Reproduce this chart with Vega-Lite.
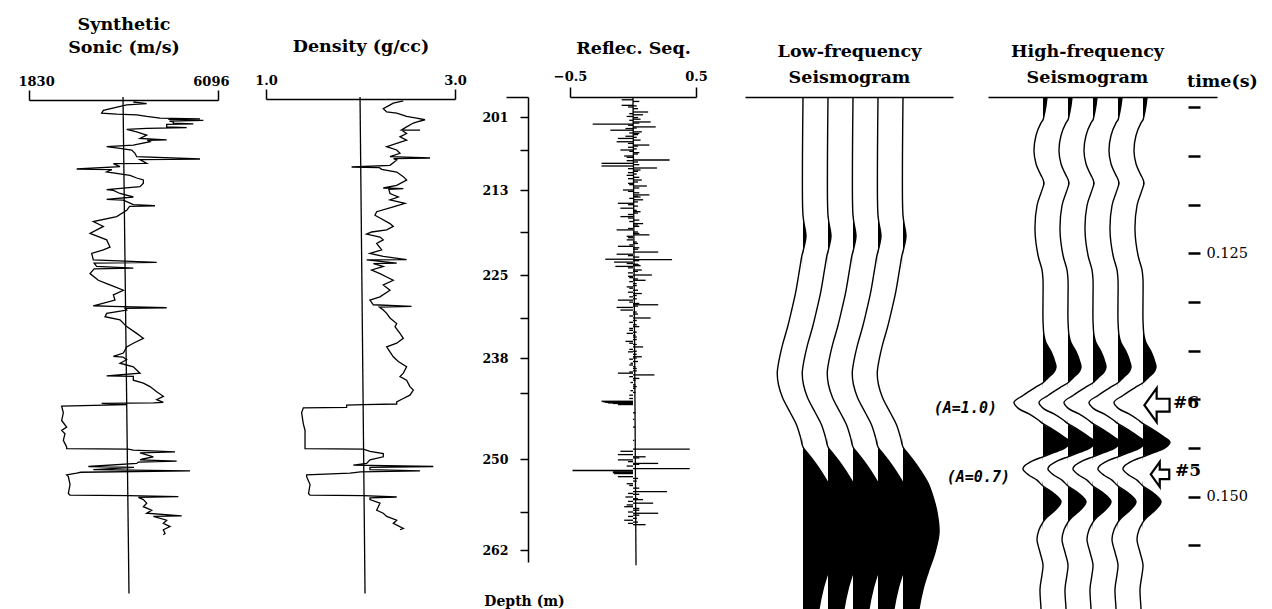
{
"$schema": "https://vega.github.io/schema/vega-lite/v6.json",
"width": 1272, "height": 609, "autosize": {"type": "none"}, "padding": 0, "background": "white",
"config": {"view": {"stroke": null}, "axis": {"grid": false, "domainColor": "black", "tickColor": "black", "labelColor": "black", "titleColor": "black", "labelFont": "DejaVu Serif", "titleFont": "DejaVu Serif", "labelOverlap": false}},
"datasets": {
"sonic": [{"d":198.3,"v":4185},{"d":198.6,"v":4486},{"d":198.8,"v":4035},{"d":199.8,"v":3508},{"d":200.3,"v":3470},{"d":200.5,"v":3809},{"d":200.6,"v":4260},{"d":200.9,"v":4486},{"d":201.2,"v":4787},{"d":201.35,"v":5690},{"d":201.45,"v":4975},{"d":201.6,"v":5765},{"d":201.75,"v":5000},{"d":201.9,"v":5088},{"d":202.1,"v":5088},{"d":202.25,"v":5539},{"d":202.35,"v":4938},{"d":202.8,"v":4938},{"d":202.95,"v":5389},{"d":203.05,"v":4486},{"d":203.25,"v":4035},{"d":203.7,"v":4260},{"d":204.3,"v":4486},{"d":204.9,"v":4336},{"d":205.15,"v":4938},{"d":205.25,"v":4500},{"d":205.5,"v":4561},{"d":206.1,"v":4185},{"d":206.4,"v":3583},{"d":206.7,"v":3884},{"d":207.0,"v":4148},{"d":207.5,"v":4223},{"d":208.0,"v":4260},{"d":208.35,"v":5690},{"d":208.45,"v":4336},{"d":209.0,"v":4486},{"d":209.05,"v":3734},{"d":209.5,"v":3884},{"d":209.85,"v":2906},{"d":209.95,"v":3700},{"d":210.3,"v":3583},{"d":210.8,"v":4110},{"d":211.2,"v":4260},{"d":211.5,"v":4411},{"d":212.0,"v":4411},{"d":212.5,"v":4336},{"d":212.95,"v":3583},{"d":213.05,"v":3734},{"d":213.5,"v":3884},{"d":214.0,"v":4185},{"d":214.35,"v":3583},{"d":214.45,"v":3960},{"d":215.1,"v":4185},{"d":215.25,"v":4674},{"d":215.35,"v":4100},{"d":215.9,"v":4035},{"d":216.8,"v":3809},{"d":217.5,"v":3282},{"d":218.2,"v":3508},{"d":219.2,"v":3207},{"d":220.1,"v":3583},{"d":221.1,"v":3658},{"d":221.5,"v":3508},{"d":222.0,"v":3245},{"d":222.9,"v":3282},{"d":223.25,"v":4712},{"d":223.35,"v":3300},{"d":223.8,"v":3357},{"d":224.05,"v":4185},{"d":224.15,"v":3300},{"d":224.8,"v":3207},{"d":225.8,"v":3395},{"d":226.3,"v":3583},{"d":226.8,"v":3771},{"d":227.3,"v":3960},{"d":228.0,"v":3734},{"d":228.8,"v":3771},{"d":229.65,"v":3282},{"d":229.75,"v":3700},{"d":229.95,"v":4938},{"d":230.05,"v":4000},{"d":230.3,"v":4035},{"d":230.8,"v":3583},{"d":231.3,"v":3546},{"d":231.8,"v":3884},{"d":232.9,"v":4035},{"d":234.0,"v":4260},{"d":234.8,"v":4411},{"d":235.6,"v":4185},{"d":236.2,"v":4035},{"d":237.2,"v":3960},{"d":237.75,"v":3734},{"d":237.85,"v":3950},{"d":238.3,"v":4035},{"d":238.9,"v":3884},{"d":239.5,"v":4185},{"d":240.6,"v":4336},{"d":241.05,"v":3583},{"d":241.15,"v":4185},{"d":241.8,"v":4185},{"d":242.3,"v":4411},{"d":242.9,"v":4561},{"d":243.8,"v":4712},{"d":244.3,"v":4862},{"d":244.6,"v":4712},{"d":244.85,"v":4862},{"d":244.9,"v":4637},{"d":244.95,"v":3470},{"d":245.05,"v":4035},{"d":245.2,"v":2567},{"d":245.8,"v":2605},{"d":246.5,"v":2567},{"d":247.1,"v":2680},{"d":247.4,"v":2567},{"d":247.7,"v":2642},{"d":248.3,"v":2605},{"d":248.9,"v":2680},{"d":249.05,"v":2680},{"d":249.1,"v":4072},{"d":249.2,"v":4185},{"d":249.35,"v":5126},{"d":249.45,"v":4336},{"d":249.8,"v":4637},{"d":250.0,"v":4400},{"d":250.1,"v":4336},{"d":250.25,"v":5163},{"d":250.35,"v":4300},{"d":250.5,"v":4260},{"d":250.85,"v":3170},{"d":250.95,"v":4200},{"d":251.2,"v":3282},{"d":251.35,"v":5464},{"d":251.5,"v":3000},{"d":251.6,"v":2906},{"d":251.8,"v":2680},{"d":252.0,"v":2718},{"d":252.9,"v":2756},{"d":253.9,"v":2718},{"d":254.1,"v":2756},{"d":254.15,"v":4072},{"d":254.25,"v":5201},{"d":254.35,"v":4300},{"d":254.6,"v":4411},{"d":255.0,"v":4486},{"d":255.4,"v":4411},{"d":255.8,"v":4599},{"d":256.2,"v":4486},{"d":256.6,"v":5276},{"d":256.7,"v":4637},{"d":257.3,"v":4938},{"d":257.8,"v":4862},{"d":258.3,"v":5013},{"d":258.8,"v":4862},{"d":259.4,"v":4900},{"d":259.6,"v":4862}],
"density": [{"d":198.1,"rho":2.453},{"d":198.5,"rho":2.347},{"d":199.5,"rho":2.241},{"d":200.1,"rho":2.277},{"d":200.3,"rho":2.383},{"d":200.9,"rho":2.488},{"d":201.2,"rho":2.594},{"d":201.5,"rho":2.682},{"d":201.9,"rho":2.6},{"d":202.1,"rho":2.559},{"d":202.8,"rho":2.488},{"d":203.35,"rho":2.435},{"d":203.4,"rho":2.63},{"d":203.45,"rho":2.44},{"d":204.0,"rho":2.488},{"d":204.6,"rho":2.418},{"d":205.2,"rho":2.488},{"d":205.8,"rho":2.383},{"d":206.4,"rho":2.277},{"d":207.0,"rho":2.383},{"d":207.5,"rho":2.418},{"d":208.0,"rho":2.312},{"d":208.2,"rho":2.735},{"d":208.3,"rho":2.35},{"d":208.5,"rho":2.383},{"d":208.9,"rho":2.347},{"d":209.3,"rho":2.312},{"d":209.55,"rho":1.906},{"d":209.65,"rho":2.2},{"d":209.9,"rho":2.224},{"d":210.3,"rho":2.383},{"d":211.0,"rho":2.453},{"d":211.5,"rho":2.488},{"d":212.3,"rho":2.383},{"d":212.7,"rho":2.241},{"d":212.8,"rho":2.453},{"d":212.9,"rho":2.3},{"d":213.5,"rho":2.312},{"d":214.0,"rho":2.4},{"d":214.4,"rho":2.312},{"d":214.9,"rho":2.471},{"d":215.4,"rho":2.347},{"d":216.1,"rho":2.171},{"d":216.6,"rho":2.153},{"d":217.0,"rho":2.206},{"d":217.8,"rho":2.312},{"d":218.2,"rho":2.347},{"d":218.7,"rho":2.277},{"d":219.0,"rho":2.118},{"d":219.3,"rho":2.065},{"d":219.7,"rho":2.206},{"d":220.1,"rho":2.241},{"d":220.6,"rho":2.171},{"d":221.5,"rho":2.224},{"d":222.0,"rho":2.1},{"d":222.4,"rho":2.241},{"d":222.85,"rho":2.488},{"d":222.9,"rho":2.065},{"d":223.35,"rho":2.383},{"d":223.4,"rho":2.136},{"d":223.8,"rho":2.241},{"d":224.3,"rho":2.118},{"d":224.8,"rho":2.206},{"d":225.3,"rho":2.277},{"d":225.8,"rho":2.347},{"d":226.5,"rho":2.241},{"d":227.3,"rho":2.312},{"d":228.3,"rho":2.206},{"d":228.8,"rho":2.1},{"d":229.5,"rho":2.136},{"d":229.75,"rho":2.54},{"d":229.85,"rho":2.2},{"d":230.3,"rho":2.241},{"d":230.8,"rho":2.277},{"d":231.5,"rho":2.312},{"d":232.4,"rho":2.383},{"d":232.9,"rho":2.365},{"d":234.0,"rho":2.418},{"d":234.8,"rho":2.453},{"d":235.6,"rho":2.383},{"d":236.2,"rho":2.277},{"d":237.0,"rho":2.312},{"d":237.8,"rho":2.347},{"d":238.6,"rho":2.4},{"d":239.5,"rho":2.488},{"d":240.6,"rho":2.453},{"d":241.2,"rho":2.418},{"d":241.8,"rho":2.488},{"d":242.9,"rho":2.523},{"d":243.5,"rho":2.559},{"d":244.2,"rho":2.523},{"d":244.5,"rho":2.453},{"d":244.8,"rho":2.383},{"d":245.0,"rho":2.383},{"d":245.05,"rho":2.03},{"d":245.1,"rho":1.853},{"d":245.3,"rho":1.853},{"d":245.35,"rho":1.395},{"d":245.8,"rho":1.377},{"d":246.8,"rho":1.395},{"d":247.4,"rho":1.413},{"d":248.3,"rho":1.413},{"d":248.9,"rho":1.413},{"d":249.05,"rho":1.413},{"d":249.1,"rho":2.03},{"d":249.3,"rho":2.1},{"d":249.5,"rho":2.241},{"d":249.8,"rho":2.241},{"d":250.1,"rho":2.1},{"d":250.5,"rho":2.065},{"d":250.7,"rho":1.924},{"d":250.85,"rho":2.77},{"d":250.95,"rho":2.1},{"d":251.2,"rho":2.1},{"d":251.35,"rho":2.63},{"d":251.45,"rho":2.0},{"d":251.6,"rho":1.889},{"d":251.8,"rho":1.43},{"d":252.0,"rho":1.43},{"d":252.9,"rho":1.466},{"d":253.9,"rho":1.45},{"d":254.1,"rho":1.466},{"d":254.15,"rho":2.03},{"d":254.3,"rho":2.383},{"d":254.4,"rho":2.1},{"d":254.6,"rho":2.1},{"d":255.0,"rho":2.206},{"d":255.8,"rho":2.171},{"d":256.2,"rho":2.241},{"d":256.7,"rho":2.277},{"d":257.3,"rho":2.383},{"d":257.8,"rho":2.347},{"d":258.6,"rho":2.453},{"d":258.8,"rho":2.418}],
"reflec": [{"d":197.9,"r":-0.09},{"d":198.2,"r":0.05},{"d":198.9,"r":-0.09},{"d":199.5,"r":0.04},{"d":200.1,"r":0.12},{"d":200.6,"r":0.08},{"d":200.9,"r":-0.05},{"d":201.4,"r":0.06},{"d":201.9,"r":0.14},{"d":202.3,"r":-0.32},{"d":202.8,"r":0.18},{"d":203.1,"r":-0.06},{"d":203.4,"r":-0.18},{"d":203.7,"r":0.07},{"d":204.0,"r":0.05},{"d":204.5,"r":-0.06},{"d":204.9,"r":-0.12},{"d":205.2,"r":0.06},{"d":205.5,"r":-0.13},{"d":206.1,"r":0.13},{"d":206.5,"r":-0.04},{"d":207.0,"r":-0.1},{"d":207.4,"r":0.05},{"d":207.9,"r":-0.07},{"d":208.5,"r":0.29},{"d":208.6,"r":-0.05},{"d":209.0,"r":-0.25},{"d":209.4,"r":-0.25},{"d":209.7,"r":0.19},{"d":210.0,"r":0.06},{"d":210.4,"r":-0.04},{"d":210.8,"r":-0.05},{"d":211.1,"r":0.05},{"d":211.5,"r":0.07},{"d":212.0,"r":-0.04},{"d":212.4,"r":0.11},{"d":213.0,"r":-0.08},{"d":213.4,"r":0.05},{"d":213.7,"r":0.13},{"d":214.0,"r":0.06},{"d":214.4,"r":0.08},{"d":214.9,"r":-0.12},{"d":215.3,"r":0.04},{"d":215.6,"r":-0.1},{"d":216.1,"r":0.06},{"d":216.5,"r":-0.04},{"d":216.8,"r":-0.1},{"d":217.3,"r":0.05},{"d":217.8,"r":0.08},{"d":218.2,"r":0.05},{"d":218.7,"r":-0.13},{"d":219.0,"r":0.04},{"d":219.4,"r":0.13},{"d":219.8,"r":-0.04},{"d":220.1,"r":-0.05},{"d":220.6,"r":0.04},{"d":221.0,"r":-0.12},{"d":221.4,"r":0.04},{"d":221.8,"r":0.2},{"d":222.1,"r":-0.13},{"d":222.5,"r":0.05},{"d":222.8,"r":-0.22},{"d":222.85,"r":0.31},{"d":223.2,"r":-0.15},{"d":223.5,"r":0.04},{"d":223.7,"r":0.06},{"d":223.8,"r":-0.14},{"d":224.3,"r":0.07},{"d":224.7,"r":-0.04},{"d":225.0,"r":0.15},{"d":225.4,"r":-0.03},{"d":225.8,"r":0.1},{"d":226.3,"r":0.03},{"d":226.8,"r":-0.05},{"d":227.3,"r":0.04},{"d":227.8,"r":0.07},{"d":228.3,"r":-0.03},{"d":228.8,"r":-0.12},{"d":229.3,"r":0.05},{"d":229.5,"r":0.2},{"d":229.9,"r":-0.13},{"d":230.3,"r":-0.1},{"d":230.9,"r":0.04},{"d":231.5,"r":0.14},{"d":232.2,"r":-0.03},{"d":232.9,"r":0.05},{"d":233.5,"r":-0.03},{"d":234.0,"r":-0.05},{"d":234.6,"r":0.03},{"d":235.3,"r":-0.06},{"d":235.8,"r":0.03},{"d":236.2,"r":0.08},{"d":236.6,"r":-0.03},{"d":237.0,"r":-0.04},{"d":237.4,"r":0.03},{"d":237.8,"r":0.07},{"d":238.2,"r":-0.03},{"d":238.6,"r":0.04},{"d":239.2,"r":-0.03},{"d":239.8,"r":0.03},{"d":240.6,"r":-0.12},{"d":240.9,"r":0.17},{"d":241.5,"r":0.05},{"d":242.2,"r":-0.02},{"d":242.9,"r":0.03},{"d":243.6,"r":-0.02},{"d":244.2,"r":-0.03},{"d":244.75,"r":-0.25},{"d":244.8,"r":-0.24},{"d":244.85,"r":-0.22},{"d":244.9,"r":-0.2},{"d":244.95,"r":-0.16},{"d":245.05,"r":-0.12},{"d":245.8,"r":0.02},{"d":247.1,"r":0.02},{"d":248.3,"r":0.01},{"d":249.1,"r":0.45},{"d":249.3,"r":-0.1},{"d":249.6,"r":-0.12},{"d":249.8,"r":0.1},{"d":250.1,"r":-0.12},{"d":250.5,"r":0.2},{"d":250.8,"r":-0.05},{"d":251.1,"r":0.45},{"d":251.3,"r":-0.48},{"d":251.45,"r":-0.16},{"d":251.55,"r":-0.16},{"d":251.65,"r":-0.15},{"d":252.0,"r":-0.12},{"d":252.5,"r":0.03},{"d":253.0,"r":-0.03},{"d":253.7,"r":0.27},{"d":254.0,"r":0.05},{"d":254.3,"r":-0.06},{"d":254.6,"r":0.08},{"d":255.0,"r":0.16},{"d":255.2,"r":-0.05},{"d":255.4,"r":-0.07},{"d":255.8,"r":0.05},{"d":256.2,"r":0.2},{"d":256.7,"r":-0.04},{"d":257.3,"r":-0.07},{"d":257.6,"r":0.04},{"d":258.0,"r":0.1},
{"d":199.0,"r":0.03},{"d":199.2,"r":-0.04},{"d":200.4,"r":-0.03},{"d":201.1,"r":0.04},{"d":201.6,"r":-0.03},{"d":202.1,"r":0.05},{"d":202.5,"r":-0.04},{"d":203.0,"r":0.03},{"d":203.9,"r":-0.03},{"d":204.2,"r":0.04},{"d":204.7,"r":0.03},{"d":205.8,"r":-0.04},{"d":206.3,"r":0.04},{"d":206.8,"r":0.03},{"d":207.2,"r":-0.03},{"d":207.6,"r":0.04},{"d":208.1,"r":-0.05},{"d":208.8,"r":0.04},{"d":209.2,"r":0.05},{"d":209.8,"r":-0.04},{"d":210.2,"r":0.04},{"d":210.6,"r":0.03},{"d":211.3,"r":-0.04},{"d":211.8,"r":0.04},{"d":212.2,"r":-0.03},{"d":212.7,"r":0.05},{"d":213.2,"r":-0.04},{"d":213.9,"r":0.04},{"d":214.2,"r":-0.03},{"d":214.7,"r":0.04},{"d":215.1,"r":-0.04},{"d":215.9,"r":0.03},{"d":216.3,"r":0.04},{"d":217.0,"r":-0.04},{"d":217.5,"r":-0.03},{"d":218.0,"r":0.04},{"d":218.5,"r":-0.04},{"d":219.2,"r":0.05},{"d":219.6,"r":-0.05},{"d":220.4,"r":0.03},{"d":220.8,"r":-0.03},{"d":221.2,"r":0.05},{"d":222.3,"r":-0.04},{"d":223.0,"r":0.05},{"d":223.4,"r":-0.05},{"d":223.6,"r":0.05},{"d":224.0,"r":-0.04},{"d":224.5,"r":0.04},{"d":225.2,"r":-0.04},{"d":225.6,"r":0.04},{"d":226.0,"r":-0.03},{"d":226.6,"r":0.03},{"d":227.0,"r":-0.03},{"d":227.6,"r":-0.04},{"d":228.1,"r":0.03},{"d":228.6,"r":0.03},{"d":229.1,"r":-0.03},{"d":229.7,"r":0.04},{"d":230.6,"r":0.03},{"d":231.2,"r":-0.03},{"d":231.9,"r":0.03},{"d":232.6,"r":0.03},{"d":233.2,"r":-0.03},{"d":233.8,"r":0.03},{"d":234.3,"r":0.02},{"d":235.0,"r":0.03},{"d":235.6,"r":-0.03},{"d":236.9,"r":0.03},{"d":238.0,"r":0.03},{"d":238.9,"r":-0.02},{"d":239.5,"r":0.02},{"d":240.2,"r":0.03},{"d":240.4,"r":-0.03},{"d":241.2,"r":-0.03},{"d":241.8,"r":0.02},{"d":242.6,"r":0.02},{"d":243.2,"r":0.02},{"d":243.9,"r":0.02},{"d":244.5,"r":-0.03},{"d":246.4,"r":0.01},{"d":249.9,"r":0.05},{"d":250.3,"r":-0.04},{"d":250.6,"r":0.05},{"d":252.2,"r":0.04},{"d":252.8,"r":-0.05},{"d":253.3,"r":0.05},{"d":253.9,"r":-0.04},{"d":254.5,"r":0.04},{"d":254.8,"r":-0.04},{"d":255.6,"r":0.05},{"d":256.0,"r":-0.04},{"d":256.5,"r":0.05},{"d":257.0,"r":0.03},{"d":257.8,"r":-0.04}],
"lf": [{"t":0.109,"amp":0},{"t":0.1145,"amp":-0.02},{"t":0.1196,"amp":-0.02},{"t":0.1211,"amp":0},{"t":0.1219,"amp":0.04},{"t":0.1232,"amp":0.12},{"t":0.1244,"amp":0.04},{"t":0.1252,"amp":-0.04},{"t":0.1267,"amp":-0.14},{"t":0.1291,"amp":-0.3},{"t":0.1308,"amp":-0.45},{"t":0.1326,"amp":-0.62},{"t":0.1344,"amp":-0.82},{"t":0.136,"amp":-0.96},{"t":0.1373,"amp":-1.03},{"t":0.1385,"amp":-0.98},{"t":0.1398,"amp":-0.82},{"t":0.1414,"amp":-0.5},{"t":0.1426,"amp":-0.26},{"t":0.1439,"amp":-0.1},{"t":0.1449,"amp":0},{"t":0.1457,"amp":0.24},{"t":0.1465,"amp":0.48},{"t":0.1474,"amp":0.72},{"t":0.1486,"amp":1.0},{"t":0.15,"amp":1.2},{"t":0.1516,"amp":1.36},{"t":0.1537,"amp":1.44},{"t":0.1557,"amp":1.28},{"t":0.1578,"amp":1.0},{"t":0.1595,"amp":0.8},{"t":0.1615,"amp":0.64},{"t":0.1625,"amp":0.6}],
"hf": [{"t":0.109,"amp":0.16},{"t":0.1098,"amp":0.12},{"t":0.1109,"amp":0.04},{"t":0.1113,"amp":0},{"t":0.1116,"amp":-0.08},{"t":0.1129,"amp":-0.28},{"t":0.1145,"amp":-0.36},{"t":0.1158,"amp":-0.28},{"t":0.117,"amp":-0.08},{"t":0.1174,"amp":0},{"t":0.1178,"amp":0.04},{"t":0.1182,"amp":0},{"t":0.1188,"amp":-0.08},{"t":0.1201,"amp":-0.24},{"t":0.1226,"amp":-0.32},{"t":0.1252,"amp":-0.2},{"t":0.1267,"amp":-0.04},{"t":0.1277,"amp":0},{"t":0.1298,"amp":0},{"t":0.1319,"amp":0},{"t":0.1334,"amp":0.04},{"t":0.1342,"amp":0.12},{"t":0.1351,"amp":0.32},{"t":0.1362,"amp":0.48},{"t":0.1367,"amp":0.52},{"t":0.1372,"amp":0.44},{"t":0.1378,"amp":0.2},{"t":0.1383,"amp":0},{"t":0.1388,"amp":-0.32},{"t":0.1396,"amp":-0.8},{"t":0.1403,"amp":-1.16},{"t":0.1409,"amp":-1.0},{"t":0.1415,"amp":-0.56},{"t":0.1421,"amp":-0.2},{"t":0.1425,"amp":0},{"t":0.1431,"amp":0.4},{"t":0.1438,"amp":0.8},{"t":0.1444,"amp":1.08},{"t":0.145,"amp":0.88},{"t":0.1455,"amp":0.4},{"t":0.1459,"amp":0},{"t":0.1463,"amp":-0.4},{"t":0.1469,"amp":-0.76},{"t":0.1472,"amp":-0.8},{"t":0.1478,"amp":-0.56},{"t":0.1483,"amp":-0.24},{"t":0.1489,"amp":0},{"t":0.1496,"amp":0.4},{"t":0.1505,"amp":0.72},{"t":0.1513,"amp":0.52},{"t":0.1521,"amp":0.16},{"t":0.1526,"amp":0},{"t":0.1534,"amp":-0.16},{"t":0.1544,"amp":-0.24},{"t":0.1557,"amp":-0.12},{"t":0.157,"amp":0},{"t":0.158,"amp":-0.04},{"t":0.1595,"amp":-0.12},{"t":0.1615,"amp":-0.08},{"t":0.1625,"amp":-0.08}],
"amps": [{"text":"(A=1.0)","t":0.1409,"x":-1.84},{"text":"(A=0.7)","t":0.148,"x":-1.32}],
"events": [{"text":"#6","t":0.1404,"x":5.2},{"text":"#5","t":0.1474,"x":5.28}]
},
"resolve": {"scale": {"x": "independent", "y": "independent"}},
"layer": [
{"data":{"name":"sonic"},"mark":{"type":"line","color":"black","strokeWidth":1.3},
 "encoding":{"x":{"field":"v","type":"quantitative","scale":{"domain":[1830,6096],"range":[29,218],"nice":false,"zero":false},
   "axis":{"orient":"top","offset":-100,"values":[1830,6096],"format":"d","domainWidth":1.5,"tickSize":10,"tickWidth":1.5,"labelFontSize":13,"labelFontWeight":"bold","labelPadding":2,"labelFlush":true,"labelFlushOffset":11,"title":["Synthetic","Sonic (m/s)"],"titleFontSize":17.5,"titleFontWeight":"bold","titleBaseline":"top","titleLineHeight":23,"titleY":-85,"titleAlign":"center"}},
  "y":{"field":"d","type":"quantitative","scale":{"domain":[197.4,201,207,213,219,225,231.5,238,244,250,256,262,263.9],"range":[97,117,150,190,232,275,318,358,393,459,512,550,562],"nice":false,"zero":false},"axis":null},
  "order":{"value":null}}},
{"data":{"values":[{}]},"mark":{"type":"rule","color":"black","strokeWidth":1.3},
 "encoding":{"x":{"datum":3952,"type":"quantitative","scale":{"domain":[1830,6096],"range":[29,218],"nice":false,"zero":false},"axis":null},"x2":{"datum":4087},
  "y":{"datum":197.4,"type":"quantitative","scale":{"domain":[197.4,201,207,213,219,225,231.5,238,244,250,256,262,263.9],"range":[97,117,150,190,232,275,318,358,393,459,512,550,562],"nice":false,"zero":false},"axis":null},"y2":{"datum":268.9}}},
{"data":{"name":"density"},"mark":{"type":"line","color":"black","strokeWidth":1.3},
 "encoding":{"x":{"field":"rho","type":"quantitative","scale":{"domain":[1,3],"range":[266,455],"nice":false,"zero":false},
   "axis":{"orient":"top","offset":-99,"values":[1,3],"format":".1f","domainWidth":1.5,"tickSize":10,"tickWidth":1.5,"labelFontSize":13,"labelFontWeight":"bold","labelPadding":2,"labelFlush":false,"title":"Density (g/cc)","titleFontSize":17.5,"titleFontWeight":"bold","titleBaseline":"top","titleY":-62,"titleAlign":"center"}},
  "y":{"field":"d","type":"quantitative","scale":{"domain":[197.4,201,207,213,219,225,231.5,238,244,250,256,262,263.9],"range":[97,117,150,190,232,275,318,358,393,459,512,550,562],"nice":false,"zero":false},"axis":null},
  "order":{"value":null}}},
{"data":{"values":[{}]},"mark":{"type":"rule","color":"black","strokeWidth":1.3},
 "encoding":{"x":{"datum":1.995,"type":"quantitative","scale":{"domain":[1,3],"range":[266,455],"nice":false,"zero":false},"axis":null},"x2":{"datum":2.048},
  "y":{"datum":197.4,"type":"quantitative","scale":{"domain":[197.4,201,207,213,219,225,231.5,238,244,250,256,262,263.9],"range":[97,117,150,190,232,275,318,358,393,459,512,550,562],"nice":false,"zero":false},"axis":null},"y2":{"datum":268.9}}},
{"data":{"name":"reflec"},"mark":{"type":"rule","color":"black","strokeWidth":1.3},
 "encoding":{"x":{"field":"r","type":"quantitative","scale":{"domain":[-0.5,0.5],"range":[570,696],"nice":false,"zero":false},
   "axis":{"orient":"top","offset":-97,"values":[-0.5,0.5],"format":".1f","domainWidth":1.5,"tickSize":10,"tickWidth":1.5,"labelFontSize":13,"labelFontWeight":"bold","labelPadding":4,"labelFlush":false,"title":"Reflec. Seq.","titleFontSize":17.5,"titleFontWeight":"bold","titleBaseline":"top","titleY":-58,"titleAlign":"center"}},
  "x2":{"datum":0},
  "y":{"field":"d","type":"quantitative","scale":{"domain":[197.4,201,207,213,219,225,231.5,238,244,250,256,262,263.9],"range":[97,117,150,190,232,275,318,358,393,459,512,550,562],"nice":false,"zero":false},
   "axis":{"orient":"left","offset":-528,"values":[197.4,201,207,213,219,225,231.5,238,244,250,256,262],"labelExpr":"indexof([201,213,225,238,250,262], datum.value) >= 0 ? datum.label : ''","format":"d","domainWidth":1.5,"tickSize":{"condition":{"test":"datum.value < 198","value":22},"value":8},"tickWidth":1.5,"labelFontSize":12.5,"labelFontWeight":"bold","labelPadding":12,"title":"Depth (m)","titleAngle":0,"titleX":-4,"titleY":594,"titleBaseline":"top","titleAlign":"center","titleFontSize":14,"titleFontWeight":"bold"}}}},
{"data":{"values":[{}]},"mark":{"type":"rule","color":"black","strokeWidth":1.3},
 "encoding":{"x":{"datum":0,"type":"quantitative","scale":{"domain":[-0.5,0.5],"range":[570,696],"nice":false,"zero":false},"axis":null},"x2":{"datum":0.024},
  "y":{"datum":197.4,"type":"quantitative","scale":{"domain":[197.4,201,207,213,219,225,231.5,238,244,250,256,262,263.9],"range":[97,117,150,190,232,275,318,358,393,459,512,550,562],"nice":false,"zero":false},"axis":null},"y2":{"datum":264.4}}},

{"data":{"name":"lf"},"mark":{"type":"area","orient":"horizontal","color":"black","interpolate":"catmull-rom"},"encoding":{"y":{"field":"t","type":"quantitative","scale":{"domain":[0.109,0.1615],"range":[97.5,608.7],"nice":false,"zero":false},"axis":null},"x":{"field":"amp","type":"quantitative","stack":null,"scale":{"domain":[0,6],"range":[803,953],"clamp":true,"nice":false,"zero":false},"axis":null},"x2":{"datum":0},"order":{"value":null}}},
{"data":{"name":"lf"},"mark":{"type":"area","orient":"horizontal","color":"black","interpolate":"catmull-rom"},"encoding":{"y":{"field":"t","type":"quantitative","scale":{"domain":[0.109,0.1615],"range":[97.5,608.7],"nice":false,"zero":false},"axis":null},"x":{"field":"amp","type":"quantitative","stack":null,"scale":{"domain":[0,5],"range":[828,953],"clamp":true,"nice":false,"zero":false},"axis":null},"x2":{"datum":0},"order":{"value":null}}},
{"data":{"name":"lf"},"mark":{"type":"area","orient":"horizontal","color":"black","interpolate":"catmull-rom"},"encoding":{"y":{"field":"t","type":"quantitative","scale":{"domain":[0.109,0.1615],"range":[97.5,608.7],"nice":false,"zero":false},"axis":null},"x":{"field":"amp","type":"quantitative","stack":null,"scale":{"domain":[0,4],"range":[853,953],"clamp":true,"nice":false,"zero":false},"axis":null},"x2":{"datum":0},"order":{"value":null}}},
{"data":{"name":"lf"},"mark":{"type":"area","orient":"horizontal","color":"black","interpolate":"catmull-rom"},"encoding":{"y":{"field":"t","type":"quantitative","scale":{"domain":[0.109,0.1615],"range":[97.5,608.7],"nice":false,"zero":false},"axis":null},"x":{"field":"amp","type":"quantitative","stack":null,"scale":{"domain":[0,3],"range":[878,953],"clamp":true,"nice":false,"zero":false},"axis":null},"x2":{"datum":0},"order":{"value":null}}},
{"data":{"name":"lf"},"mark":{"type":"area","orient":"horizontal","color":"black","interpolate":"catmull-rom"},"encoding":{"y":{"field":"t","type":"quantitative","scale":{"domain":[0.109,0.1615],"range":[97.5,608.7],"nice":false,"zero":false},"axis":null},"x":{"field":"amp","type":"quantitative","stack":null,"scale":{"domain":[0,2],"range":[903,953],"clamp":true,"nice":false,"zero":false},"axis":null},"x2":{"datum":0},"order":{"value":null}}},
{"data":{"name":"lf"},"mark":{"type":"line","color":"black","strokeWidth":1.4,"interpolate":"catmull-rom"},"encoding":{"y":{"field":"t","type":"quantitative","scale":{"domain":[0.109,0.1615],"range":[97.5,608.7],"nice":false,"zero":false},"axis":null},"x":{"field":"amp","type":"quantitative","scale":{"domain":[-2.32,6],"range":[745,953],"nice":false,"zero":false},
  "axis":{"orient":"top","offset":-97,"ticks":false,"labels":false,"domainWidth":1.5,"title":["Low-frequency","Seismogram"],"titleFontSize":17.5,"titleFontWeight":"bold","titleBaseline":"top","titleLineHeight":26,"titleY":-55,"titleAlign":"center"}},"order":{"value":null}}},
{"data":{"name":"lf"},"mark":{"type":"line","color":"black","strokeWidth":1.4,"interpolate":"catmull-rom"},"encoding":{"y":{"field":"t","type":"quantitative","scale":{"domain":[0.109,0.1615],"range":[97.5,608.7],"nice":false,"zero":false},"axis":null},"x":{"field":"amp","type":"quantitative","scale":{"domain":[-3.32,5],"range":[745,953],"nice":false,"zero":false},"axis":null},"order":{"value":null}}},
{"data":{"name":"lf"},"mark":{"type":"line","color":"black","strokeWidth":1.4,"interpolate":"catmull-rom"},"encoding":{"y":{"field":"t","type":"quantitative","scale":{"domain":[0.109,0.1615],"range":[97.5,608.7],"nice":false,"zero":false},"axis":null},"x":{"field":"amp","type":"quantitative","scale":{"domain":[-4.32,4],"range":[745,953],"nice":false,"zero":false},"axis":null},"order":{"value":null}}},
{"data":{"name":"lf"},"mark":{"type":"line","color":"black","strokeWidth":1.4,"interpolate":"catmull-rom"},"encoding":{"y":{"field":"t","type":"quantitative","scale":{"domain":[0.109,0.1615],"range":[97.5,608.7],"nice":false,"zero":false},"axis":null},"x":{"field":"amp","type":"quantitative","scale":{"domain":[-5.32,3],"range":[745,953],"nice":false,"zero":false},"axis":null},"order":{"value":null}}},
{"data":{"name":"lf"},"mark":{"type":"line","color":"black","strokeWidth":1.4,"interpolate":"catmull-rom"},"encoding":{"y":{"field":"t","type":"quantitative","scale":{"domain":[0.109,0.1615],"range":[97.5,608.7],"nice":false,"zero":false},"axis":null},"x":{"field":"amp","type":"quantitative","scale":{"domain":[-6.32,2],"range":[745,953],"nice":false,"zero":false},"axis":null},"order":{"value":null}}},

{"data":{"name":"hf"},"mark":{"type":"area","orient":"horizontal","color":"black","interpolate":"catmull-rom"},"encoding":{"y":{"field":"t","type":"quantitative","scale":{"domain":[0.109,0.1615],"range":[97.5,608.7],"nice":false,"zero":false},"axis":null},"x":{"field":"amp","type":"quantitative","stack":null,"scale":{"domain":[0,6.96],"range":[1043,1217],"clamp":true,"nice":false,"zero":false},"axis":null},"x2":{"datum":0},"order":{"value":null}}},
{"data":{"name":"hf"},"mark":{"type":"area","orient":"horizontal","color":"black","interpolate":"catmull-rom"},"encoding":{"y":{"field":"t","type":"quantitative","scale":{"domain":[0.109,0.1615],"range":[97.5,608.7],"nice":false,"zero":false},"axis":null},"x":{"field":"amp","type":"quantitative","stack":null,"scale":{"domain":[0,5.96],"range":[1068,1217],"clamp":true,"nice":false,"zero":false},"axis":null},"x2":{"datum":0},"order":{"value":null}}},
{"data":{"name":"hf"},"mark":{"type":"area","orient":"horizontal","color":"black","interpolate":"catmull-rom"},"encoding":{"y":{"field":"t","type":"quantitative","scale":{"domain":[0.109,0.1615],"range":[97.5,608.7],"nice":false,"zero":false},"axis":null},"x":{"field":"amp","type":"quantitative","stack":null,"scale":{"domain":[0,4.96],"range":[1093,1217],"clamp":true,"nice":false,"zero":false},"axis":null},"x2":{"datum":0},"order":{"value":null}}},
{"data":{"name":"hf"},"mark":{"type":"area","orient":"horizontal","color":"black","interpolate":"catmull-rom"},"encoding":{"y":{"field":"t","type":"quantitative","scale":{"domain":[0.109,0.1615],"range":[97.5,608.7],"nice":false,"zero":false},"axis":null},"x":{"field":"amp","type":"quantitative","stack":null,"scale":{"domain":[0,3.96],"range":[1118,1217],"clamp":true,"nice":false,"zero":false},"axis":null},"x2":{"datum":0},"order":{"value":null}}},
{"data":{"name":"hf"},"mark":{"type":"area","orient":"horizontal","color":"black","interpolate":"catmull-rom"},"encoding":{"y":{"field":"t","type":"quantitative","scale":{"domain":[0.109,0.1615],"range":[97.5,608.7],"nice":false,"zero":false},"axis":null},"x":{"field":"amp","type":"quantitative","stack":null,"scale":{"domain":[0,2.96],"range":[1143,1217],"clamp":true,"nice":false,"zero":false},"axis":null},"x2":{"datum":0},"order":{"value":null}}},
{"data":{"name":"hf"},"mark":{"type":"line","color":"black","strokeWidth":1.4,"interpolate":"catmull-rom"},"encoding":{"y":{"field":"t","type":"quantitative","scale":{"domain":[0.109,0.1615],"range":[97.5,608.7],"nice":false,"zero":false},
  "axis":{"orient":"right","offset":-84,"domain":false,"values":[0.11,0.115,0.12,0.125,0.13,0.135,0.14,0.145,0.15,0.155],"labelExpr":"abs(datum.value-0.125)<0.0001 || abs(datum.value-0.15)<0.0001 ? format(datum.value,'.3f') : ''","tickSize":12,"tickWidth":2.5,"labelPadding":6,"labelFontSize":14.5,"labelFontWeight":"normal","labelAlign":"left","labelBaseline":"middle","title":"time(s)","titleAngle":0,"titleX":34,"titleY":72,"titleBaseline":"top","titleAlign":"center","titleFontSize":17.5,"titleFontWeight":"bold"}},
  "x":{"field":"amp","type":"quantitative","scale":{"domain":[-2.2,6.96],"range":[988,1217],"nice":false,"zero":false},
  "axis":{"orient":"top","offset":-97,"ticks":false,"labels":false,"domainWidth":1.5,"title":["High-frequency","Seismogram"],"titleFontSize":17.5,"titleFontWeight":"bold","titleBaseline":"top","titleLineHeight":26,"titleY":-55,"titleX":1087,"titleAlign":"center"}},"order":{"value":null}}},
{"data":{"name":"hf"},"mark":{"type":"line","color":"black","strokeWidth":1.4,"interpolate":"catmull-rom"},"encoding":{"y":{"field":"t","type":"quantitative","scale":{"domain":[0.109,0.1615],"range":[97.5,608.7],"nice":false,"zero":false},"axis":null},"x":{"field":"amp","type":"quantitative","scale":{"domain":[-3.2,5.96],"range":[988,1217],"nice":false,"zero":false},"axis":null},"order":{"value":null}}},
{"data":{"name":"hf"},"mark":{"type":"line","color":"black","strokeWidth":1.4,"interpolate":"catmull-rom"},"encoding":{"y":{"field":"t","type":"quantitative","scale":{"domain":[0.109,0.1615],"range":[97.5,608.7],"nice":false,"zero":false},"axis":null},"x":{"field":"amp","type":"quantitative","scale":{"domain":[-4.2,4.96],"range":[988,1217],"nice":false,"zero":false},"axis":null},"order":{"value":null}}},
{"data":{"name":"hf"},"mark":{"type":"line","color":"black","strokeWidth":1.4,"interpolate":"catmull-rom"},"encoding":{"y":{"field":"t","type":"quantitative","scale":{"domain":[0.109,0.1615],"range":[97.5,608.7],"nice":false,"zero":false},"axis":null},"x":{"field":"amp","type":"quantitative","scale":{"domain":[-5.2,3.96],"range":[988,1217],"nice":false,"zero":false},"axis":null},"order":{"value":null}}},
{"data":{"name":"hf"},"mark":{"type":"line","color":"black","strokeWidth":1.4,"interpolate":"catmull-rom"},"encoding":{"y":{"field":"t","type":"quantitative","scale":{"domain":[0.109,0.1615],"range":[97.5,608.7],"nice":false,"zero":false},"axis":null},"x":{"field":"amp","type":"quantitative","scale":{"domain":[-6.2,2.96],"range":[988,1217],"nice":false,"zero":false},"axis":null},"order":{"value":null}}},

{"data":{"name":"amps"},"mark":{"type":"text","align":"right","baseline":"middle","font":"DejaVu Sans Mono","fontSize":15,"fontWeight":"bold","fontStyle":"italic","color":"black"},
 "encoding":{"text":{"field":"text"},"x":{"field":"x","type":"quantitative","scale":{"domain":[-2.2,6.96],"range":[988,1217],"nice":false,"zero":false},"axis":null},"y":{"field":"t","type":"quantitative","scale":{"domain":[0.109,0.1615],"range":[97.5,608.7],"nice":false,"zero":false},"axis":null}}},
{"data":{"name":"events"},"mark":{"type":"text","align":"left","baseline":"middle","font":"DejaVu Serif","fontSize":17,"fontWeight":"bold","color":"black"},
 "encoding":{"text":{"field":"text"},"x":{"field":"x","type":"quantitative","scale":{"domain":[-2.2,6.96],"range":[988,1217],"nice":false,"zero":false},"axis":null},"y":{"field":"t","type":"quantitative","scale":{"domain":[0.109,0.1615],"range":[97.5,608.7],"nice":false,"zero":false},"axis":null}}},
{"data":{"values":[{}]},"mark":{"type":"point","shape":"M-0.74,0 L-0.02,-1 L-0.02,-0.38 L0.74,-0.38 L0.74,0.38 L-0.02,0.38 L-0.02,1 Z","size":1156,"fill":"white","stroke":"black","strokeWidth":2.2,"opacity":1,"fillOpacity":1},
 "encoding":{"x":{"datum":4.56,"type":"quantitative","scale":{"domain":[-2.2,6.96],"range":[988,1217],"nice":false,"zero":false},"axis":null},"y":{"datum":0.1406,"type":"quantitative","scale":{"domain":[0.109,0.1615],"range":[97.5,608.7],"nice":false,"zero":false},"axis":null}}},
{"data":{"values":[{}]},"mark":{"type":"point","shape":"M-0.74,0 L-0.02,-1 L-0.02,-0.38 L0.74,-0.38 L0.74,0.38 L-0.02,0.38 L-0.02,1 Z","size":625,"fill":"white","stroke":"black","strokeWidth":2.2,"opacity":1,"fillOpacity":1},
 "encoding":{"x":{"datum":4.68,"type":"quantitative","scale":{"domain":[-2.2,6.96],"range":[988,1217],"nice":false,"zero":false},"axis":null},"y":{"datum":0.1477,"type":"quantitative","scale":{"domain":[0.109,0.1615],"range":[97.5,608.7],"nice":false,"zero":false},"axis":null}}}
]
}
